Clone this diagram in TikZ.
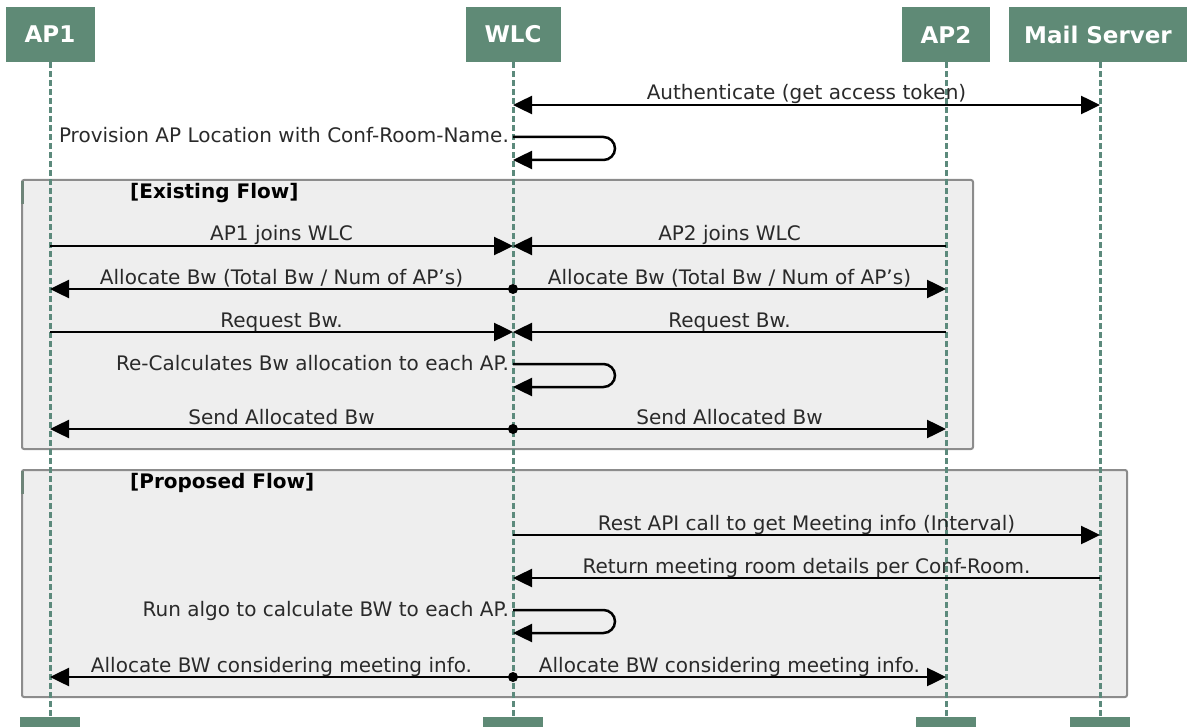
\documentclass[tikz,border=0pt]{standalone}
\usepackage{fontspec}
\setmainfont{DejaVu Sans}
\usetikzlibrary{arrows.meta}
\definecolor{hdrgreen}{HTML}{5F8A76}
\definecolor{lifecol}{HTML}{5C8A7C}
\definecolor{framefill}{HTML}{EEEEEE}
\definecolor{frameline}{HTML}{8C8C8C}
\definecolor{labelgray}{HTML}{2A2A2A}
\definecolor{accent}{HTML}{6E8478}
\newcommand{\sq}{\char"0027\relax}
\begin{document}
\begin{tikzpicture}[x=1pt,y=-1pt,
 hdr/.style={fill=hdrgreen, text=white, font=\fontsize{23}{26}\selectfont\bfseries, minimum height=55pt, inner sep=0pt},
 stub/.style={fill=hdrgreen, minimum width=60pt, minimum height=10pt, inner sep=0pt},
 life/.style={draw=lifecol, line width=3pt, dash pattern=on 6pt off 3pt},
 tip/.style={-{Triangle[length=19pt,width=18pt]}},
 msg/.style={draw=black, line width=2.5pt, tip},
 dmsg/.style={draw=black, line width=2.5pt, {Triangle[length=19pt,width=18pt]}-{Triangle[length=19pt,width=18pt]}},
 selfmsg/.style={msg, rounded corners=11.5pt},
 lbl/.style={font=\fontsize{20}{22}\selectfont, text=labelgray, inner sep=0pt, anchor=base},
 slbl/.style={lbl, anchor=base east},
 grp/.style={draw=frameline, fill=framefill, line width=2pt, rounded corners=2pt},
 grptitle/.style={font=\fontsize{20}{24}\selectfont\bfseries, inner sep=0pt, anchor=base west},
 dot/.style={circle, fill=black, inner sep=0pt, minimum size=10pt}
]
\useasboundingbox (0,0) rectangle (1188,727);

% participants
\node[hdr, minimum width=89pt] (ap1) at (50,34.5) {AP1};
\node[hdr, minimum width=95pt] (wlc) at (513,34.5) {WLC};
\node[hdr, minimum width=88pt] (ap2) at (946,34.5) {AP2};
\node[hdr, minimum width=178pt] (mail) at (1098,34.5) {Mail Server};
\node[stub] (ap1s) at (50,722) {};
\node[stub] (wlcs) at (513,722) {};
\node[stub] (ap2s) at (946,722) {};
\node[stub] (mails) at (1100,722) {};

% groups
\coordinate (g1a) at (22,180);
\coordinate (g1b) at (973,449);
\coordinate (g2a) at (22,470);
\coordinate (g2b) at (1127,697);
\draw[grp] (g1a) rectangle (g1b);
\draw[grp] (g2a) rectangle (g2b);
\draw[draw=accent, line width=3pt] ([yshift=-1pt]g1a) -- ++(0,23);
\draw[draw=accent, line width=3pt] ([yshift=-1pt]g2a) -- ++(0,23);
\node[grptitle] (t1) at (130,199) {[Existing Flow]};
\node[grptitle] (t2) at (130,488) {[Proposed Flow]};

% lifelines
\draw[life] (ap1.south) -- (ap1s.north);
\draw[life] (wlc.south) -- (wlcs.north);
\draw[life] (ap2.south) -- (ap2s.north);
\draw[life] (mail.south -| mails) -- (mails.north);

% messages
\draw[dmsg] (wlc |- 0,105) -- (mails |- 0,105) node[lbl, midway, yshift=5pt] (m1) {Authenticate (get access token)};

\draw[selfmsg] (wlc |- 0,137) -- (615,137) -- (615,160) -- (wlc |- 0,160);
\node[slbl] (m2) at (509,143) {Provision AP Location with Conf-Room-Name.};

\draw[msg] (ap1 |- 0,246) -- (wlc |- 0,246) node[lbl, midway, yshift=5pt] (m3) {AP1 joins WLC};
\draw[msg] (ap2 |- 0,246) -- (wlc |- 0,246) node[lbl, midway, yshift=5pt] (m4) {AP2 joins WLC};

\draw[msg] (wlc |- 0,289) -- (ap1 |- 0,289) node[lbl, midway, yshift=5pt] (m5) {Allocate Bw (Total Bw / Num of AP\sq s)};
\draw[msg] (wlc |- 0,289) -- (ap2 |- 0,289) node[lbl, midway, yshift=5pt] (m6) {Allocate Bw (Total Bw / Num of AP\sq s)};
\node[dot] (d1) at (wlc |- 0,289) {};

\draw[msg] (ap1 |- 0,332) -- (wlc |- 0,332) node[lbl, midway, yshift=5pt] (m7) {Request Bw.};
\draw[msg] (ap2 |- 0,332) -- (wlc |- 0,332) node[lbl, midway, yshift=5pt] (m8) {Request Bw.};

\draw[selfmsg] (wlc |- 0,364) -- (615,364) -- (615,387) -- (wlc |- 0,387);
\node[slbl] (m9) at (509,370) {Re-Calculates Bw allocation to each AP.};

\draw[msg] (wlc |- 0,429) -- (ap1 |- 0,429) node[lbl, midway, yshift=5pt] (m10) {Send Allocated Bw};
\draw[msg] (wlc |- 0,429) -- (ap2 |- 0,429) node[lbl, midway, yshift=5pt] (m11) {Send Allocated Bw};
\node[dot] (d2) at (wlc |- 0,429) {};

\draw[msg] (wlc |- 0,535) -- (mails |- 0,535) node[lbl, midway, yshift=5pt] (m12) {Rest API call to get Meeting info (Interval)};
\draw[msg] (mails |- 0,578) -- (wlc |- 0,578) node[lbl, midway, yshift=5pt] (m13) {Return meeting room details per Conf-Room.};

\draw[selfmsg] (wlc |- 0,610) -- (615,610) -- (615,633) -- (wlc |- 0,633);
\node[slbl] (m14) at (509,616) {Run algo to calculate BW to each AP.};

\draw[msg] (wlc |- 0,677) -- (ap1 |- 0,677) node[lbl, midway, yshift=5pt] (m15) {Allocate BW considering meeting info.};
\draw[msg] (wlc |- 0,677) -- (ap2 |- 0,677) node[lbl, midway, yshift=5pt] (m16) {Allocate BW considering meeting info.};
\node[dot] (d3) at (wlc |- 0,677) {};
\end{tikzpicture}
\end{document}
